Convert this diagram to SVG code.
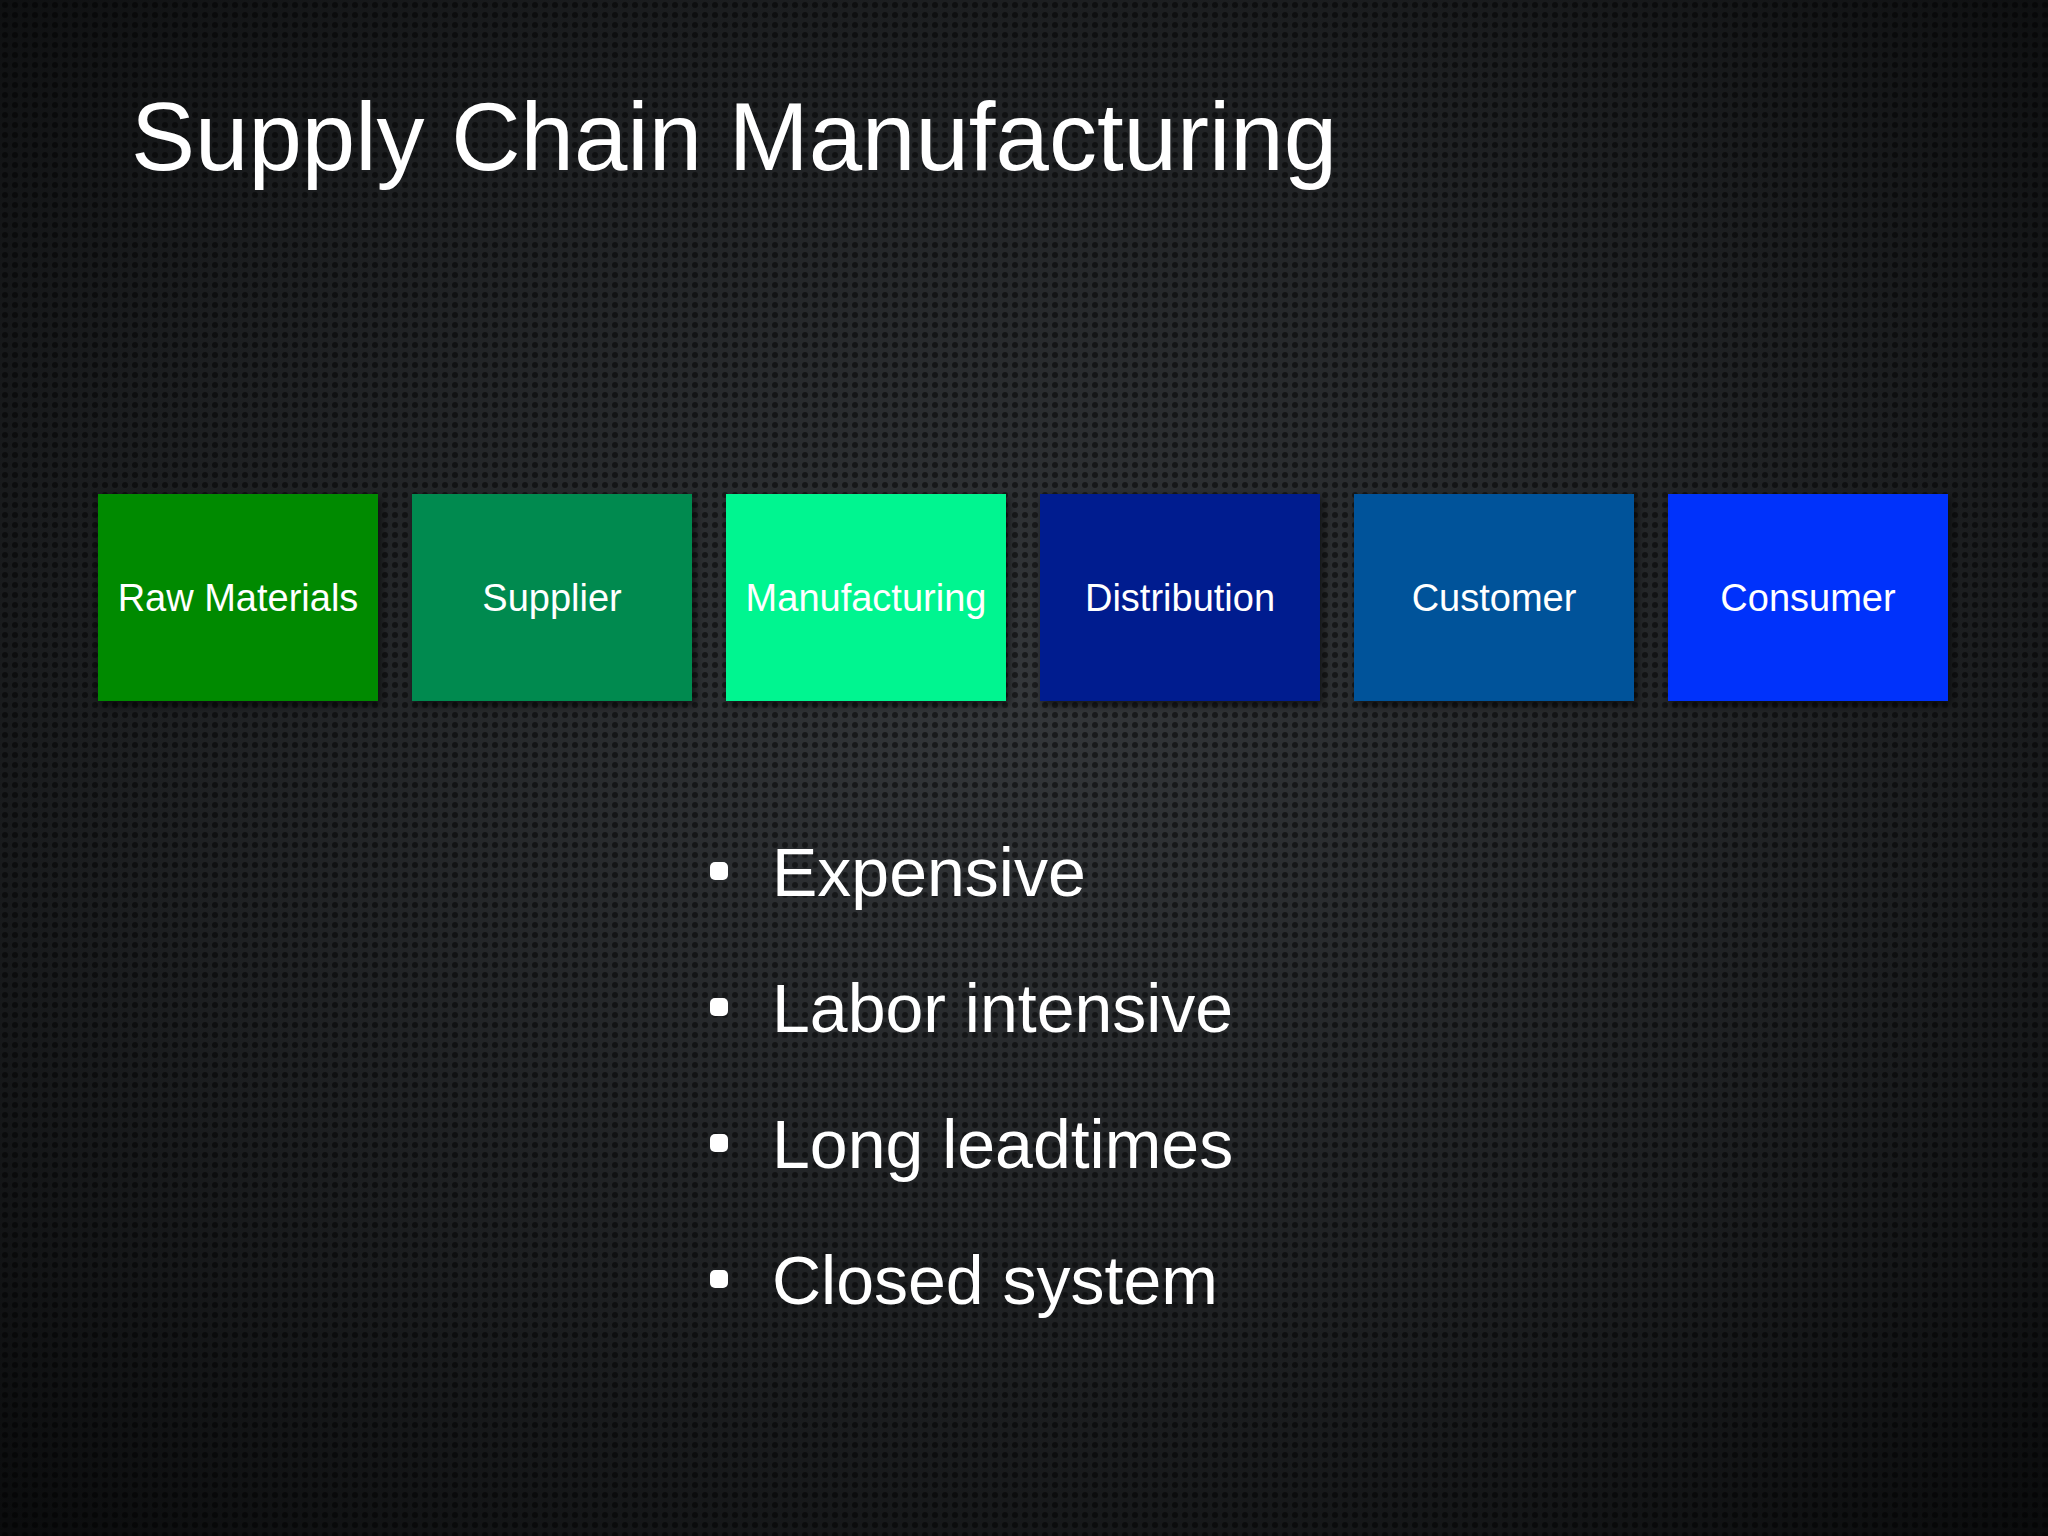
<svg xmlns="http://www.w3.org/2000/svg" width="2048" height="1536" viewBox="0 0 2048 1536">
<defs>
<radialGradient id="bg" cx="0.5" cy="0.45" r="0.75">
<stop offset="0" stop-color="#34373a"/>
<stop offset="0.6" stop-color="#1c1e20"/>
<stop offset="1" stop-color="#0a0b0c"/>
</radialGradient>
<pattern id="dots" width="10" height="10" patternUnits="userSpaceOnUse">
<circle cx="5" cy="5" r="3" fill="#000" fill-opacity="0.5"/>
</pattern>
<filter id="sh" x="-10%" y="-10%" width="130%" height="130%">
<feDropShadow dx="3" dy="4" stdDeviation="4" flood-color="#000" flood-opacity="0.6"/>
</filter>
</defs>
<style>
.box{filter:url(#sh)}
.lbl{font-family:"Liberation Sans",Arial,sans-serif;font-size:38px;fill:#fff;text-anchor:middle}
.bul{font-family:"Liberation Sans",Arial,sans-serif;font-size:68px;fill:#fff}
.title{font-family:"Liberation Sans",Arial,sans-serif;font-size:96px;fill:#fff}
</style>
<rect width="2048" height="1536" fill="url(#bg)"/>
<rect width="2048" height="1536" fill="url(#dots)"/>
<text class="title" x="131" y="170">Supply Chain Manufacturing</text>
<g id="raw"><rect class="box" x="98" y="494" width="280" height="207" fill="#008a00"/><text class="lbl" x="238" y="611">Raw Materials</text></g>
<g id="supplier"><rect class="box" x="412" y="494" width="280" height="207" fill="#048a50"/><text class="lbl" x="552" y="611">Supplier</text></g>
<g id="manufacturing"><rect class="box" x="726" y="494" width="280" height="207" fill="#00f590"/><text class="lbl" x="866" y="611">Manufacturing</text></g>
<g id="distribution"><rect class="box" x="1040" y="494" width="280" height="207" fill="#031a8f"/><text class="lbl" x="1180" y="611">Distribution</text></g>
<g id="customer"><rect class="box" x="1354" y="494" width="280" height="207" fill="#02529a"/><text class="lbl" x="1494" y="611">Customer</text></g>
<g id="consumer"><rect class="box" x="1668" y="494" width="280" height="207" fill="#0433fb"/><text class="lbl" x="1808" y="611">Consumer</text></g>
<g id="connectors"></g>
<g id="bullets" fill="#fff">
<rect x="710" y="862" width="18" height="18" rx="5"/>
<rect x="710" y="998" width="18" height="18" rx="5"/>
<rect x="710" y="1134" width="18" height="18" rx="5"/>
<rect x="710" y="1270" width="18" height="18" rx="5"/>
<text class="bul" x="772" y="896">Expensive</text>
<text class="bul" x="772" y="1032">Labor intensive</text>
<text class="bul" x="772" y="1168">Long leadtimes</text>
<text class="bul" x="772" y="1304">Closed system</text>
</g>
</svg>
